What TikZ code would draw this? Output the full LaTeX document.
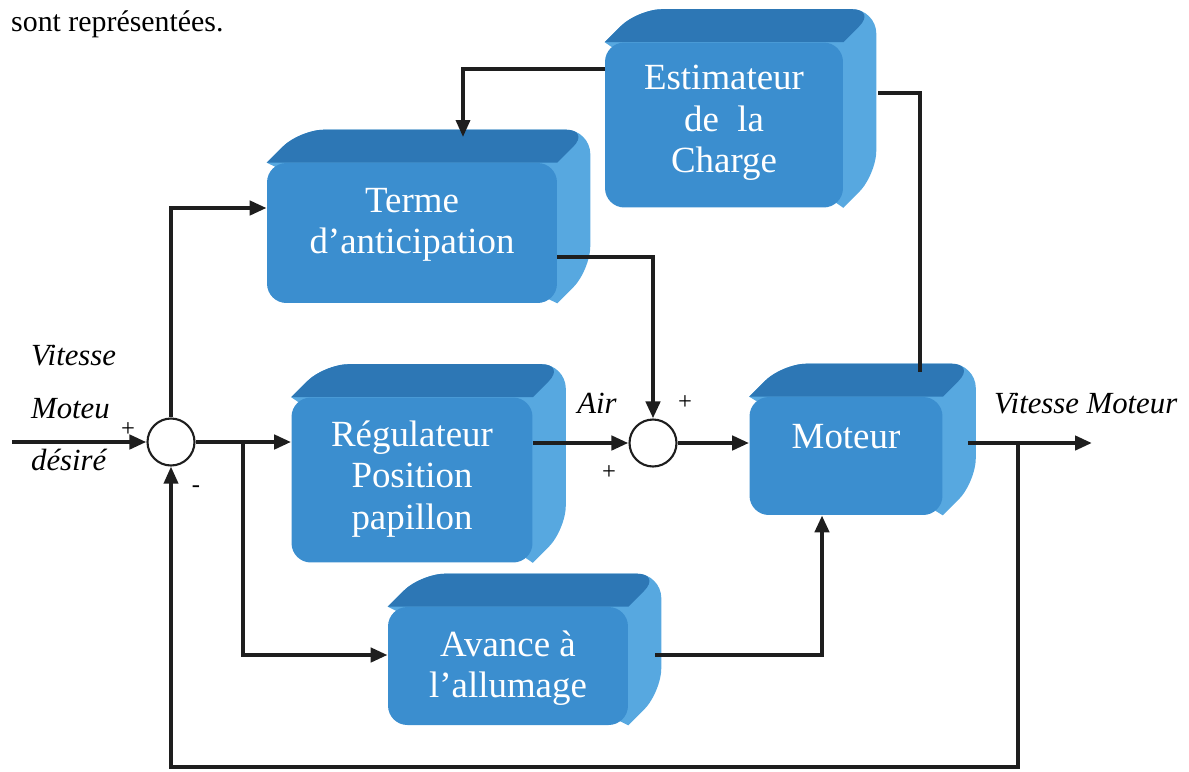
\documentclass[tikz,border=0pt]{standalone}
\usepackage{fontspec}
\setmainfont{Liberation Serif}
\usepackage{xcolor}
\usepackage{tikz}
\usetikzlibrary{calc,arrows.meta,backgrounds}
\definecolor{front}{HTML}{3B8ECF}
\definecolor{topf}{HTML}{2D77B5}
\definecolor{side}{HTML}{57A8E0}
\definecolor{wire}{HTML}{1E1E1E}
\tikzset{
  bloc/.style={fill=front, rounded corners=11pt, inner sep=0pt},
  btext/.style={text=white, font=\fontsize{21}{23.5}\selectfont, align=center},
  sum/.style={circle, draw=wire, line width=1.2pt, fill=white, minimum size=0.94cm, inner sep=0pt},
  sig/.style={line width=2.4pt, draw=wire},
  arr/.style={sig, -{Triangle[length=0.34cm,width=0.28cm]}},
  lab/.style={font=\fontsize{17.5}{20}\selectfont\itshape},
  sgn/.style={font=\fontsize{14}{16}\selectfont},
}
\newcommand{\relief}[1]{% top and side faces behind block #1
  \begin{pgfonlayer}{background}
  \fill[side] (#1.north west) [rounded corners=14pt] -- ++(33,-33) -- ($(#1.north east)+(33,-33)$)
     -- ($(#1.south east)+(33,-33)$) [sharp corners] -- (#1.south east) -- (#1.center) -- cycle;
  \fill[topf] (#1.north west) [rounded corners=14pt] -- ++(33,-33) -- ($(#1.north east)+(33,-33)$)
     [sharp corners] -- (#1.north east) -- cycle;
  \end{pgfonlayer}}

\begin{document}
\begin{tikzpicture}[x=0.02cm, y=-0.02cm]
  \useasboundingbox (0,0) rectangle (1189,771);
  \node[anchor=base west, font=\fontsize{17}{20}\selectfont] (txt) at (5,31) {sont représentées.};

  % blocs
  \node[bloc, minimum width=4.76cm, minimum height=3.3cm] (est) at (724,125) {};
  \node[bloc, minimum width=5.8cm, minimum height=2.8cm] (ter) at (412,233) {};
  \node[bloc, minimum width=4.82cm, minimum height=3.3cm] (reg) at (412,480) {};
  \node[bloc, minimum width=3.86cm, minimum height=2.36cm] (mot) at (846,456) {};
  \node[bloc, minimum width=4.8cm, minimum height=2.36cm] (ava) at (508,666) {};
  \foreach \b in {est,ter,reg,mot,ava} {\relief{\b}}

  \node[btext] (estt) at (724,123) {Estimateur\\de\ \ la\\Charge};
  \node[btext] (tert) at (412,225) {Terme\\d'anticipation};
  \node[btext] (regt) at (412,479) {Régulateur\\Position\\papillon};
  \node[btext] (mott) at (846,437) {Moteur};
  \node[btext] (avat) at (508,668) {Avance à\\l'allumage};

  % comparateurs
  \node[sum] (s1) at (171,442) {};
  \node[sum] (s2) at (653,443) {};

  \coordinate (in) at (12,442);      % consigne
  \coordinate (br) at (243,442);     % derivation vers avance
  \coordinate (fb) at (1018,443);    % retour
  \coordinate (out) at (1092,443);   % sortie
  \coordinate (tertop) at (463,137);
  \coordinate (mottop) at (920,372);

  \draw[arr] (in) -- (s1);
  \draw[arr] (s1) -- (s1 -| reg.west);
  \draw[arr] (s1) |- ($(ter.west)+(0,-25)$);
  \draw[arr] (br) |- ($(ava.west)+(0,-11)$);
  \draw[arr] (reg.east |- s2) -- (s2);
  \draw[arr] ($(ter.east)+(0,24)$) -| (s2);
  \draw[arr] (s2) -- (s2 -| mot.west);
  \draw[arr, line width=2pt] ($(est.west)+(0,-56)$) -| (tertop);
  \draw[sig, line width=2pt] ($(est.east)+(35,-32)$) -| (mottop);
  \draw[arr] ($(mot.east)+(25,-13)$) -- (out);
  \draw[arr, line width=2pt] (fb) -- ++(0,324) -| (s1);
  \draw[arr] ($(ava.east)+(27,-11)$) -| ($(mot.south)+(-24,0)$);

  % textes
  \node[lab, anchor=base west] (vi1) at (25,365) {Vitesse};
  \node[lab, anchor=base west] (vi2) at (25,418) {Moteu};
  \node[lab, anchor=base west] (vi3) at (25,470) {désiré};
  \node[sgn] (p1) at (128,430) {+};
  \node[sgn] (m1) at (196,489) {-};
  \node[lab] (air) at (597,403) {Air};
  \node[sgn] (p2) at (685,403) {+};
  \node[sgn] (p3) at (609,473) {+};
  \node[lab, anchor=base west] (vm) at (988,413) {Vitesse Moteur};
\end{tikzpicture}
\end{document}
